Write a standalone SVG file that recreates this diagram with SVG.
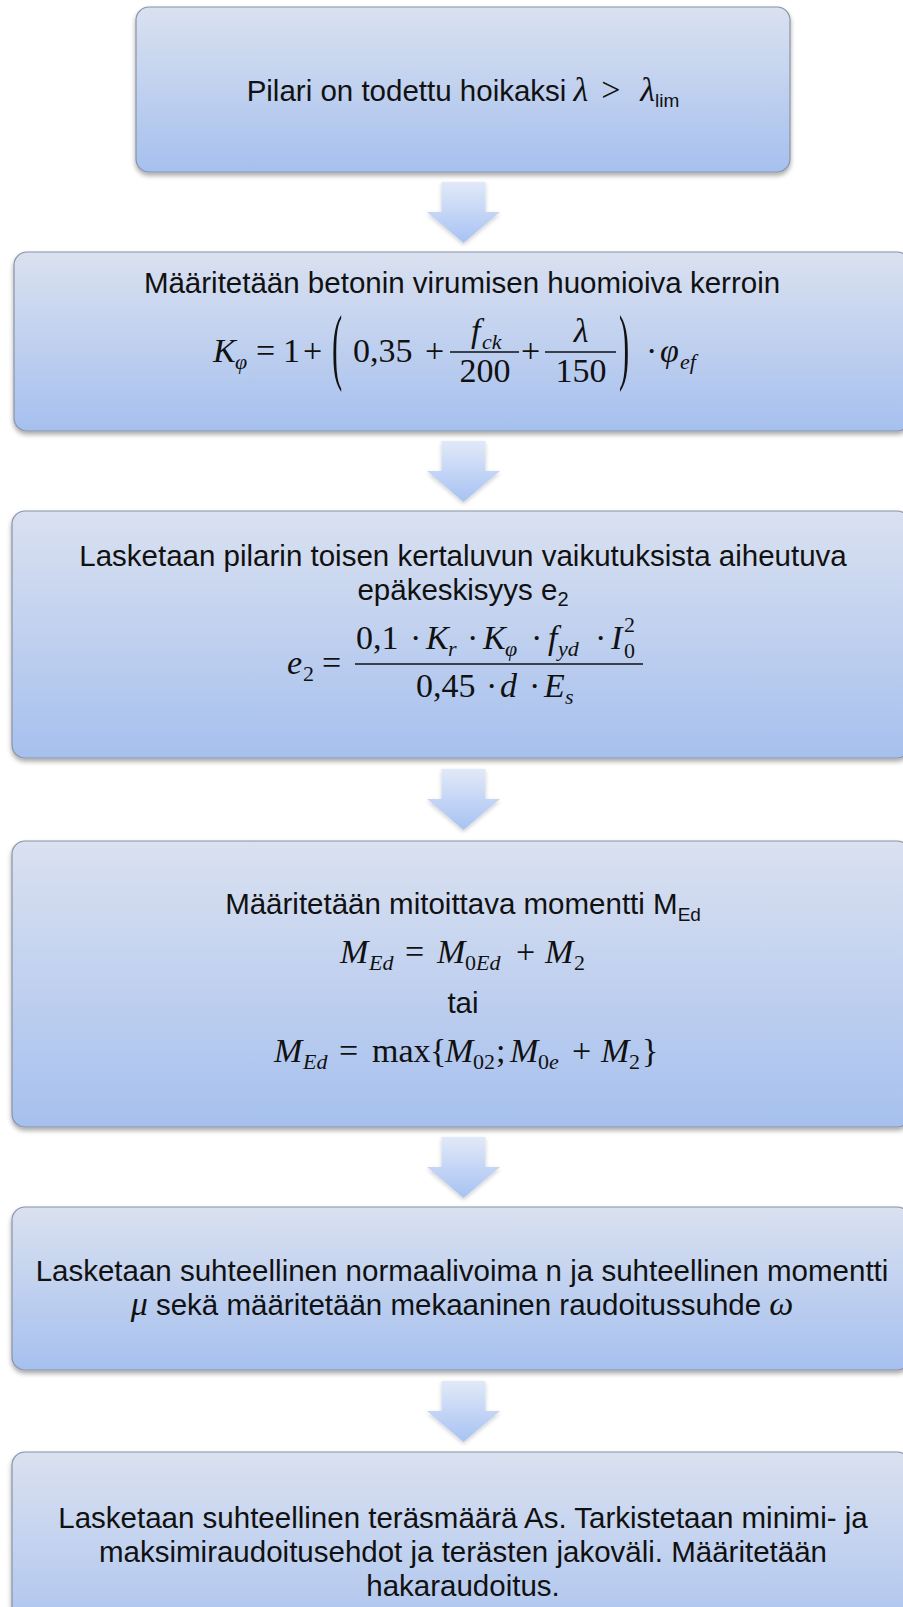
<svg xmlns="http://www.w3.org/2000/svg" width="903" height="1607" viewBox="0 0 903 1607">
<style>
.box{stroke:#8893a6;stroke-width:1.2;filter:url(#sh)}
.arr{fill:url(#ga);filter:url(#sh2)}
.t{font-family:"Liberation Sans",Arial,sans-serif;font-size:29.5px;fill:#111}
.mi{font-family:"Liberation Serif","Times New Roman",serif;font-style:italic;font-size:34px;fill:#111}
.mo{font-family:"Liberation Serif","Times New Roman",serif;font-size:34px;fill:#111}
.s{font-size:22px}
.bar{stroke:#111;stroke-width:1.4}
</style>
<defs>
<linearGradient id="gb" x1="0" y1="0" x2="0" y2="1">
<stop offset="0" stop-color="#dae1f0"/>
<stop offset="1" stop-color="#a6c0ee"/>
</linearGradient>
<linearGradient id="ga" x1="0" y1="0" x2="0" y2="1">
<stop offset="0" stop-color="#e1e9f8"/>
<stop offset="1" stop-color="#a7c2f3"/>
</linearGradient>
<filter id="sh" x="-5%" y="-10%" width="110%" height="130%">
<feGaussianBlur in="SourceAlpha" stdDeviation="2.5"/>
<feOffset dy="3" result="b"/>
<feComponentTransfer><feFuncA type="linear" slope="0.35"/></feComponentTransfer>
<feMerge><feMergeNode/><feMergeNode in="SourceGraphic"/></feMerge>
</filter>
<filter id="sh2" x="-20%" y="-20%" width="140%" height="150%">
<feGaussianBlur in="SourceAlpha" stdDeviation="2"/>
<feOffset dy="2" result="b"/>
<feComponentTransfer><feFuncA type="linear" slope="0.2"/></feComponentTransfer>
<feMerge><feMergeNode/><feMergeNode in="SourceGraphic"/></feMerge>
</filter>
</defs>
<rect width="903" height="1607" fill="#ffffff"/>

<g id="connectors">
<polygon class="arr" points="441.5,182 485.5,182 485.5,212 500,212 463.5,243 427,212 441.5,212"/>
<polygon class="arr" points="441.5,441 485.5,441 485.5,471 500,471 463.5,502 427,471 441.5,471"/>
<polygon class="arr" points="441.5,769 485.5,769 485.5,799 500,799 463.5,830 427,799 441.5,799"/>
<polygon class="arr" points="441.5,1137 485.5,1137 485.5,1167 500,1167 463.5,1198 427,1167 441.5,1167"/>
<polygon class="arr" points="441.5,1381 485.5,1381 485.5,1411 500,1411 463.5,1442 427,1411 441.5,1411"/>
</g>

<g id="node1">
<rect class="box" x="136" y="7" width="654" height="165" rx="13" fill="url(#gb)"/>
<text class="t" x="463" y="101" text-anchor="middle" font-size="28">Pilari on todettu hoikaksi<tspan class="mi" font-size="31" dx="7">λ</tspan><tspan class="mo" font-size="31" dx="13">&gt;</tspan><tspan class="mi" font-size="31" dx="20">λ</tspan><tspan font-size="19" dy="6">lim</tspan></text>
</g>

<g id="node2">
<rect class="box" x="14" y="252" width="896" height="179" rx="13" fill="url(#gb)"/>
<text class="t" x="462" y="293" text-anchor="middle">Määritetään betonin virumisen huomioiva kerroin</text>
<text class="mi" x="213" y="362">K</text>
<text class="mi s" x="235" y="369">φ</text>
<text class="mo" x="256" y="362">=</text>
<text class="mo" x="283" y="362">1</text>
<text class="mo" x="303" y="362">+</text>
<text class="mo" transform="translate(332,374) scale(0.9,2.48)">(</text>
<text class="mo" x="353" y="362">0,35</text>
<text class="mo" x="425" y="362">+</text>
<line class="bar" x1="450" y1="352" x2="519" y2="352"/>
<text class="mi" x="471" y="342">f</text>
<text class="mi s" x="482" y="349">ck</text>
<text class="mo" x="485" y="382" text-anchor="middle">200</text>
<text class="mo" x="521" y="362">+</text>
<line class="bar" x1="545" y1="352" x2="616" y2="352"/>
<text class="mi" x="581" y="342" text-anchor="middle">λ</text>
<text class="mo" x="581" y="382" text-anchor="middle">150</text>
<text class="mo" transform="translate(619,374) scale(0.9,2.48)">)</text>
<text class="mo" x="646" y="362">·</text>
<text class="mi" x="660" y="362">φ</text>
<text class="mi s" x="680" y="369">ef</text>
</g>

<g id="node3">
<rect class="box" x="12" y="511" width="898" height="247" rx="13" fill="url(#gb)"/>
<text class="t" x="463" y="566" text-anchor="middle">Lasketaan pilarin toisen kertaluvun vaikutuksista aiheutuva</text>
<text class="t" x="463" y="600" text-anchor="middle">epäkeskisyys e<tspan font-size="20" dy="6">2</tspan></text>
<text class="mi" x="287" y="674">e</text>
<text class="mo s" x="303" y="681">2</text>
<text class="mo" x="322" y="674">=</text>
<line class="bar" x1="355" y1="664" x2="643" y2="664"/>
<text class="mo" x="356" y="649" font-size="33">0,1</text>
<text class="mo" x="410" y="649" font-size="33">·</text>
<text class="mi" x="426" y="649" font-size="33">K</text>
<text class="mi s" x="448" y="656">r</text>
<text class="mo" x="467" y="649" font-size="33">·</text>
<text class="mi" x="483" y="649" font-size="33">K</text>
<text class="mi s" x="505" y="656">φ</text>
<text class="mo" x="531" y="649" font-size="33">·</text>
<text class="mi" x="548" y="649" font-size="33">f</text>
<text class="mi s" x="558" y="656">yd</text>
<text class="mo" x="595" y="649" font-size="33">·</text>
<text class="mi" x="611" y="649" font-size="33">I</text>
<text class="mo s" x="624" y="658">0</text>
<text class="mo s" x="624" y="632">2</text>
<text class="mo" x="416" y="697" font-size="33">0,45</text>
<text class="mo" x="486" y="697" font-size="33">·</text>
<text class="mi" x="500" y="697" font-size="33">d</text>
<text class="mo" x="529" y="697" font-size="33">·</text>
<text class="mi" x="544" y="697" font-size="33">E</text>
<text class="mi s" x="565" y="704">s</text>
</g>

<g id="node4">
<rect class="box" x="12" y="841" width="898" height="286" rx="13" fill="url(#gb)"/>
<text class="t" x="463" y="914" text-anchor="middle" font-size="30">Määritetään mitoittava momentti M<tspan font-size="19" dy="7">Ed</tspan></text>
<text class="mi" x="340" y="963">M</text>
<text class="mi s" x="369" y="970">Ed</text>
<text class="mo" x="405" y="963">=</text>
<text class="mi" x="437" y="963">M</text>
<text class="mi s" x="465" y="970"><tspan font-style="normal">0</tspan>Ed</text>
<text class="mo" x="516" y="963">+</text>
<text class="mi" x="545" y="963">M</text>
<text class="mo s" x="574" y="970">2</text>
<text class="t" x="463" y="1013" text-anchor="middle">tai</text>
<text class="mi" x="274" y="1062">M</text>
<text class="mi s" x="303" y="1069">Ed</text>
<text class="mo" x="339" y="1062">=</text>
<text class="mo" x="372" y="1062">max</text>
<text class="mo" x="430" y="1062">{</text>
<text class="mi" x="445" y="1062">M</text>
<text class="mo s" x="473" y="1069">02</text>
<text class="mo" x="496" y="1062">;</text>
<text class="mi" x="510" y="1062">M</text>
<text class="mi s" x="538" y="1069"><tspan font-style="normal">0</tspan>e</text>
<text class="mo" x="572" y="1062">+</text>
<text class="mi" x="601" y="1062">M</text>
<text class="mo s" x="629" y="1069">2</text>
<text class="mo" x="642" y="1062">}</text>
</g>

<g id="node5">
<rect class="box" x="12" y="1207" width="898" height="163" rx="13" fill="url(#gb)"/>
<text class="t" x="462" y="1281" text-anchor="middle">Lasketaan suhteellinen normaalivoima n ja suhteellinen momentti</text>
<text class="t" x="462" y="1315" text-anchor="middle"><tspan class="mi" font-size="30">μ</tspan> sekä määritetään mekaaninen raudoitussuhde <tspan class="mi" font-size="30">ω</tspan></text>
</g>

<g id="node6">
<rect class="box" x="12" y="1452" width="898" height="210" rx="13" fill="url(#gb)"/>
<text class="t" x="463" y="1528" text-anchor="middle">Lasketaan suhteellinen teräsmäärä As. Tarkistetaan minimi- ja</text>
<text class="t" x="463" y="1562" text-anchor="middle">maksimiraudoitusehdot ja terästen jakoväli. Määritetään</text>
<text class="t" x="463" y="1596" text-anchor="middle">hakaraudoitus.</text>
</g>
</svg>
